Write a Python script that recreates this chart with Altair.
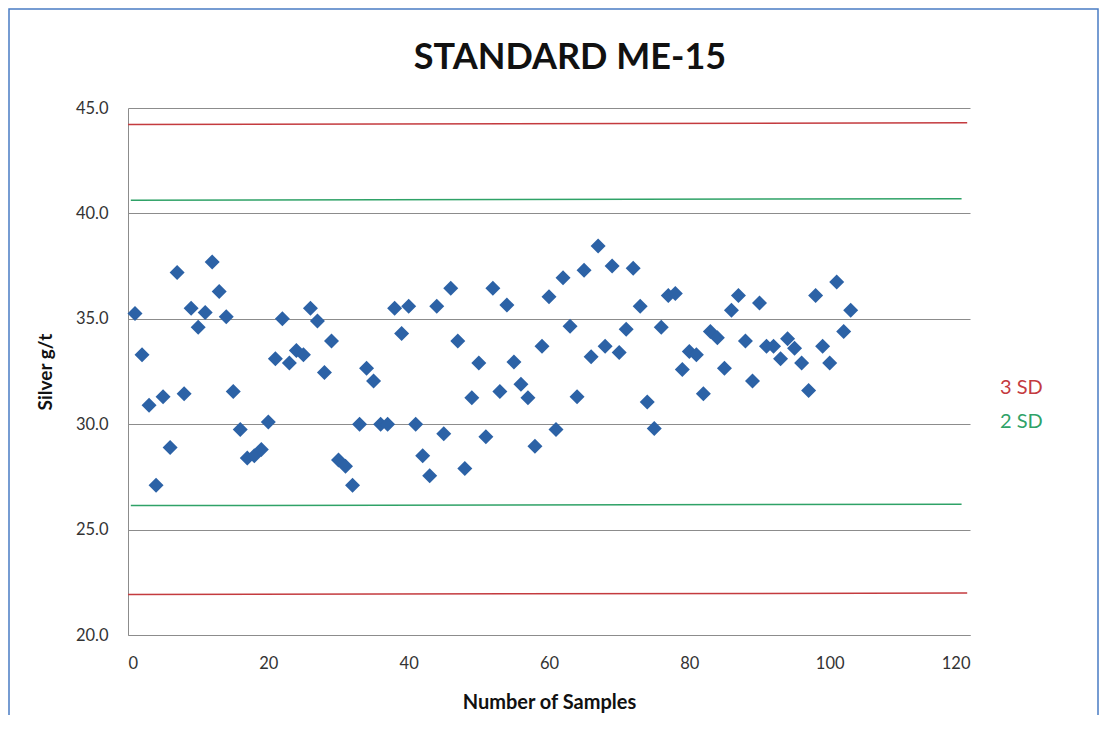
import altair as alt
import pandas as pd

# ---- data ----
sample_no = list(range(1, 104))
silver = [
    35.25, 33.3, 30.9, 27.1, 31.3, 28.9, 37.2, 31.45, 35.5, 34.6,
    35.3, 37.7, 36.3, 35.1, 31.55, 29.75, 28.4, 28.5, 28.8, 30.1,
    33.1, 35.0, 32.9, 33.5, 33.3, 35.5, 34.9, 32.45, 33.95, 28.3,
    28.0, 27.1, 30.0, 32.65, 32.05, 30.0, 30.0, 35.5, 34.3, 35.6, 30.0,
    28.5, 27.55, 35.6, 29.55, 36.45, 33.95, 27.9, 31.25, 32.9, 29.4,
    36.45, 31.55, 35.65, 32.95, 31.9, 31.25, 28.95, 33.7, 36.05, 29.75,
    36.95, 34.65, 31.3, 37.3, 33.2, 38.45, 33.7, 37.5, 33.4, 34.5,
    37.4, 35.6, 31.05, 29.8, 34.6, 36.1, 36.2, 32.6, 33.45, 33.3, 31.45,
    34.4, 34.1, 32.65, 35.4, 36.1, 33.95, 32.05, 35.75, 33.7, 33.7,
    33.1, 34.05, 33.6, 32.9, 31.6, 36.1, 33.7, 32.9, 36.75, 34.4, 35.4,
]

line_id = ["u3", "u3", "u2", "u2", "l2", "l2", "l3", "l3"]
line_kind = ["3 SD", "3 SD", "2 SD", "2 SD", "2 SD", "2 SD", "3 SD", "3 SD"]
line_x = [0, 119.6, 0.4, 118.8, 0.4, 118.8, 0, 119.6]
line_y = [44.22, 44.30, 40.62, 40.70, 26.14, 26.20, 21.92, 21.99]

x_ticks = [0, 20, 40, 60, 80, 100, 120]
y_ticks = [20, 25, 30, 35, 40, 45]

chart_title = "STANDARD ME-15"

RED = "#C43B3F"
GREEN = "#2FA267"
BLUE = "#2C62A6"
GRID = "#8C8C8C"

W, H = 842, 527

pts = pd.DataFrame({"n": sample_no, "v": silver})
lines = pd.DataFrame({"id": line_id, "kind": line_kind, "x": line_x, "y": line_y})

xscale = alt.Scale(domain=[0, 120], nice=False, zero=False)
yscale = alt.Scale(domain=[20, 45], nice=False, zero=False)

xaxis = alt.Axis(title="Number of Samples", values=x_ticks, grid=False, ticks=False,
                 labelPadding=20, titlePadding=21, domainColor=GRID,
                 labelFontSize=16.5, titleFontSize=20)
yaxis = alt.Axis(title="Silver g/t", values=y_ticks, format=".1f", grid=True,
                 gridColor=GRID, ticks=False, labelPadding=20, titlePadding=20,
                 domainColor=GRID, labelFontSize=16.5, titleFontSize=19)

sd_lines = alt.Chart(lines).mark_line(strokeWidth=1.5).encode(
    x=alt.X("x:Q", scale=xscale, axis=xaxis),
    y=alt.Y("y:Q", scale=yscale, axis=yaxis),
    detail="id:N",
    color=alt.Color("kind:N", scale=alt.Scale(domain=["3 SD", "2 SD"], range=[RED, GREEN]),
                    legend=None),
)

points = alt.Chart(pts).mark_point(
    shape="diamond", filled=True, size=225, color=BLUE, opacity=1
).encode(
    x=alt.X("n:Q", scale=xscale, axis=xaxis),
    y=alt.Y("v:Q", scale=yscale, axis=yaxis),
)

one = pd.DataFrame({"a": [0]})
lab3 = alt.Chart(one).mark_text(align="left", baseline="middle", fontSize=20, color=RED,
                                text="3 SD").encode(x=alt.value(W + 30), y=alt.value(280))
lab2 = alt.Chart(one).mark_text(align="left", baseline="middle", fontSize=20, color=GREEN,
                                text="2 SD").encode(x=alt.value(W + 30), y=alt.value(314))

title_mark = alt.Chart(one).mark_text(
    align="center", baseline="middle", fontSize=36, fontWeight="bold", color="#111111",
    text=chart_title
).encode(x=alt.value(W / 2 + 21), y=alt.value(-50))

frame = alt.Chart(one).mark_rect(
    filled=False, stroke="#4A7CC4", strokeWidth=1.5
).encode(
    x=alt.value(-119), x2=alt.value(W + 128), y=alt.value(-99), y2=alt.value(H + 200)
)

chart = alt.layer(sd_lines, points, lab3, lab2, title_mark, frame).properties(
    width=W, height=H,
    autosize=alt.AutoSizeParams(type="none"),
    padding={"left": 120, "top": 100, "right": 130, "bottom": 80},
).configure(font="Lato").configure_axis(
    labelColor="#333333", titleColor="#111111", titleFontWeight="bold",
    labelFont="Lato", titleFont="Lato"
).configure_view(stroke=None)

chart.save("out.html", embed_options={"renderer": "svg", "actions": False})
